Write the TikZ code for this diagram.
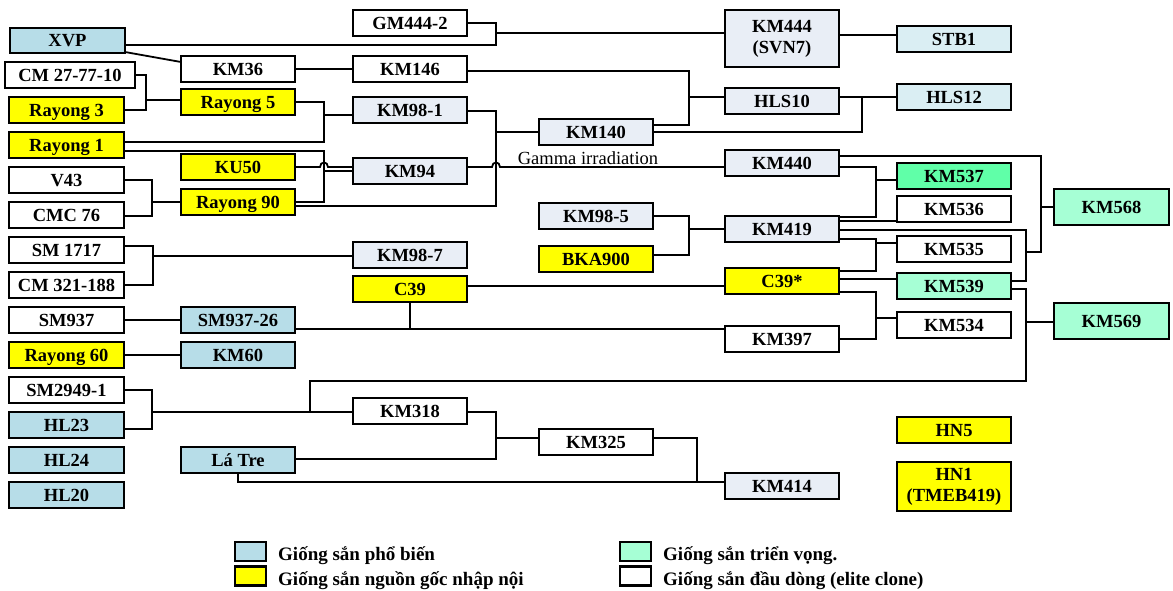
\documentclass[tikz,border=0pt]{standalone}
\usepackage{fontspec}
\setmainfont{Liberation Serif}
\definecolor{cvblue}{HTML}{B7DDE8}
\definecolor{cpale}{HTML}{DAEEF3}
\definecolor{cgrey}{HTML}{E9EEF6}
\definecolor{cyell}{HTML}{FFFF00}
\definecolor{cgreen}{HTML}{60FFA8}
\definecolor{cmint}{HTML}{A6FFD5}
\tikzset{
  boxbase/.style={draw=black, line width=2.2pt, inner sep=0pt, outer sep=0pt,
    font=\fontsize{18.5}{21}\selectfont\bfseries},
  box/.style={boxbase, text height=12.5pt, text depth=0pt},
  twoline/.style={boxbase, align=center},
  ln/.style={line width=1.8pt, line join=miter},
  swatch/.style={draw=black, line width=2.2pt, minimum width=31pt, minimum height=19pt, inner sep=0pt, outer sep=0pt},
  lgtext/.style={font=\fontsize{19}{21}\selectfont\bfseries, inner sep=0pt, anchor=base west},
}
% variety box from its corners: name, x1, y1, x2, y2, fill, label
\newcommand\gbox[7]{\node[box, fill=#6, minimum width={#4-#2}, minimum height={#5-#3}] (#1) at ({(#2+#4)/2},{(#3+#5)/2}) {#7};}
\begin{document}
\begin{tikzpicture}[x=1pt, y=-1pt]
\useasboundingbox (0,0) rectangle (1173,590);

% first column: parents
\gbox{xvp}{10}{28}{125}{53}{cvblue}{XVP}
\gbox{cm27}{5}{62}{135}{88}{white}{CM 27-77-10}
\gbox{ry3}{9}{97}{124}{123}{cyell}{Rayong 3}
\gbox{ry1}{9}{132}{124}{158}{cyell}{Rayong 1}
\gbox{v43}{9}{167}{124}{193}{white}{V43}
\gbox{cmc}{9}{202}{124}{228}{white}{CMC 76}
\gbox{sm1717}{9}{237}{124}{263}{white}{SM 1717}
\gbox{cm321}{9}{272}{124}{298}{white}{CM 321-188}
\gbox{sm937}{9}{307}{124}{333}{white}{SM937}
\gbox{ry60}{9}{342}{124}{368}{cyell}{Rayong 60}
\gbox{sm2949}{9}{377}{124}{403}{white}{SM2949-1}
\gbox{hl23}{9}{412}{124}{438}{cvblue}{HL23}
\gbox{hl24}{9}{447}{124}{473}{cvblue}{HL24}
\gbox{hl20}{9}{482}{124}{508}{cvblue}{HL20}

% second column
\gbox{km36}{181}{56}{295}{82}{white}{KM36}
\gbox{ry5}{181}{89}{295}{115}{cyell}{Rayong 5}
\gbox{ku50}{181}{154}{295}{180}{cyell}{KU50}
\gbox{ry90}{181}{189}{295}{215}{cyell}{Rayong 90}
\gbox{sm26}{181}{307}{295}{333}{cvblue}{SM937-26}
\gbox{km60}{181}{342}{295}{368}{cvblue}{KM60}
\gbox{latre}{181}{447}{295}{473}{cvblue}{Lá Tre}

% third column
\gbox{gm}{353}{10}{467}{36}{white}{GM444-2}
\gbox{km146}{353}{56}{467}{82}{white}{KM146}
\gbox{km981}{353}{97}{467}{123}{cgrey}{KM98-1}
\gbox{km94}{353}{158}{467}{184}{cgrey}{KM94}
\gbox{km987}{353}{242}{467}{268}{cgrey}{KM98-7}
\gbox{c39}{353}{276}{467}{302}{cyell}{C39}
\gbox{km318}{353}{398}{467}{424}{white}{KM318}

% fourth column
\gbox{km140}{539}{119}{653}{145}{cgrey}{KM140}
\gbox{km985}{539}{203}{653}{229}{cgrey}{KM98-5}
\gbox{bka}{539}{246}{653}{272}{cyell}{BKA900}
\gbox{km325}{539}{429}{653}{455}{white}{KM325}

% fifth column
\node[twoline, fill=cgrey, minimum width=114, minimum height=57] (km444) at (782,38.5) {KM444\\(SVN7)};
\gbox{hls10}{725}{88}{839}{114}{cgrey}{HLS10}
\gbox{km440}{725}{150}{839}{176}{cgrey}{KM440}
\gbox{km419}{725}{216}{839}{242}{cgrey}{KM419}
\gbox{c39s}{725}{268}{839}{294}{cyell}{C39*}
\gbox{km397}{725}{326}{839}{352}{white}{KM397}
\gbox{km414}{725}{473}{839}{499}{cgrey}{KM414}

% sixth column
\gbox{stb1}{897}{26}{1011}{52}{cpale}{STB1}
\gbox{hls12}{897}{84}{1011}{110}{cpale}{HLS12}
\gbox{km537}{897}{163}{1011}{189}{cgreen}{KM537}
\gbox{km536}{897}{196}{1011}{222}{white}{KM536}
\gbox{km535}{897}{236}{1011}{262}{white}{KM535}
\gbox{km539}{897}{273}{1011}{299}{cmint}{KM539}
\gbox{km534}{897}{312}{1011}{338}{white}{KM534}
\gbox{hn5}{897}{417}{1011}{443}{cyell}{HN5}
\node[twoline, fill=cyell, minimum width=114, minimum height=49] (hn1) at (954,486.5) {HN1\\(TMEB419)};

% seventh column
\gbox{km568}{1054}{189}{1169}{225}{cmint}{KM568}
\gbox{km569}{1054}{303}{1169}{339}{cmint}{KM569}

% crosses
\draw[ln] (xvp.east |- 0,45) -- (496,45) -- (496,23) -- (gm.east |- 0,23);
\draw[ln] (496,33) -- (km444.west |- 0,33);
\draw[ln] (xvp.east |- 0,52) -- (km36.west |- 0,62);
\draw[ln] (km36) -- (km146);
\draw[ln] (km146.east |- 0,71) -- (689,71) -- (689,125) -- (km140.east |- 0,125);
\draw[ln] (689,97) -- (hls10.west |- 0,97);
\draw[ln] (hls10.east |- 0,97) -- (hls12.west |- 0,97);
\draw[ln] (km140.east |- 0,132) -- (862,132) -- (862,97);
\draw[ln] (km444.east |- 0,35) -- (stb1.west |- 0,35);

\draw[ln] (cm27.east |- 0,75) -- (146,75) -- (146,110) -- (ry3.east |- 0,110);
\draw[ln] (146,100) -- (ry5.west |- 0,100);
\draw[ln] (ry5.east |- 0,102) -- (324,102) -- (324,142) -- (ry1.east |- 0,142);
\draw[ln] (324,115) -- (km981.west |- 0,115);
\draw[ln] (ry1.east |- 0,151) -- (324,151) -- (324,202) -- (ry90.east |- 0,202);
\draw[ln] (324,171) -- (km94.west |- 0,171);
\draw[ln] (ku50.east |- 0,167) -- (320,167) .. controls (320,161) and (328,161) .. (328,167) -- (km94.west |- 0,167);
\draw[ln] (km981.east |- 0,111) -- (496,111) -- (496,206) -- (ry90.east |- 0,206);
\draw[ln] (496,132) -- (km140.west |- 0,132);
\draw[ln] (km94.east |- 0,167) -- (492,167) .. controls (492,161) and (500,161) .. (500,167) -- (km440.west |- 0,167);
\node[font=\fontsize{18.5}{20}\selectfont, inner sep=0pt, anchor=base] (gamma) at (588,164) {Gamma irradiation};

\draw[ln] (v43.east |- 0,180) -- (152,180) -- (152,216) -- (cmc.east |- 0,216);
\draw[ln] (152,202) -- (ry90.west |- 0,202);
\draw[ln] (sm1717.east |- 0,246) -- (153,246) -- (153,285) -- (cm321.east |- 0,285);
\draw[ln] (153,256) -- (km987.west |- 0,256);
\draw[ln] (sm937) -- (sm26);
\draw[ln] (ry60) -- (km60);
\draw[ln] (sm26.east |- 0,329) -- (km397.west |- 0,329);
\draw[ln] (c39.south) -- (c39.south |- 0,329);
\draw[ln] (c39.east |- 0,286) -- (c39s.west |- 0,286);

\draw[ln] (km985.east |- 0,216) -- (689,216) -- (689,255) -- (bka.east |- 0,255);
\draw[ln] (689,229) -- (km419.west |- 0,229);

\draw[ln] (km440.east |- 0,156) -- (1041,156) -- (1041,252) -- (1026,252);
\draw[ln] (1041,207) -- (km568.west |- 0,207);
\draw[ln] (km440.east |- 0,167) -- (876,167) -- (876,217) -- (km419.east |- 0,217);
\draw[ln] (876,180) -- (km537.west |- 0,180);
\draw[ln] (km419.east |- 0,221) -- (km536.west |- 0,221);
\draw[ln] (km419.east |- 0,230) -- (1026,230) -- (1026,281) -- (km539.east |- 0,281);
\draw[ln] (km419.east |- 0,239) -- (876,239) -- (876,271) -- (c39s.east |- 0,271);
\draw[ln] (876,243) -- (km535.west |- 0,243);
\draw[ln] (c39s.east |- 0,279) -- (km539.west |- 0,279);
\draw[ln] (c39s.east |- 0,292) -- (876,292) -- (876,339) -- (km397.east |- 0,339);
\draw[ln] (876,318) -- (km534.west |- 0,318);
\draw[ln] (km539.east |- 0,289) -- (1026,289) -- (1026,381) -- (310,381) -- (310,412);
\draw[ln] (1026,322) -- (km569.west |- 0,322);

\draw[ln] (sm2949.east |- 0,390) -- (152,390) -- (152,429) -- (hl23.east |- 0,429);
\draw[ln] (152,412) -- (km318.west |- 0,412);
\draw[ln] (km318.east |- 0,412) -- (496,412) -- (496,459) -- (latre.east |- 0,459);
\draw[ln] (496,438) -- (km325.west |- 0,438);
\draw[ln] (km325.east |- 0,438) -- (697,438) -- (697,482) -- (km414.west |- 0,482);
\draw[ln] (latre.south) -- (latre.south |- 0,482) -- (697,482);

% legend
\node[swatch, fill=cvblue] (lg1) at (250.5,551.5) {};
\node[swatch, fill=cyell] (lg2) at (250.5,576) {};
\node[swatch, fill=cmint] (lg3) at (635.5,551.5) {};
\node[swatch, fill=white] (lg4) at (635.5,576) {};
\node[lgtext] (lt1) at (278,560) {Giống sắn phổ biến};
\node[lgtext] (lt2) at (278,585) {Giống sắn nguồn gốc nhập nội};
\node[lgtext] (lt3) at (663,560) {Giống sắn triển vọng.};
\node[lgtext] (lt4) at (663,585) {Giống sắn đầu dòng (elite clone)};
\end{tikzpicture}
\end{document}
